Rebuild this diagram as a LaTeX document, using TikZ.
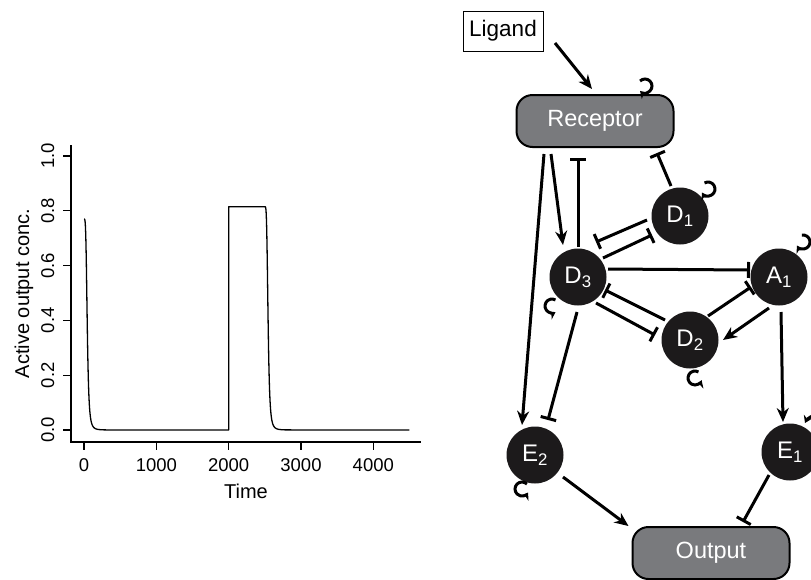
\documentclass[tikz,border=0pt]{standalone}
\usepackage{fontspec}
\setmainfont{Liberation Sans}
\usetikzlibrary{arrows.meta, calc, positioning}
\definecolor{nwBlack}{HTML}{1C1A1B}
\definecolor{nwGrey}{HTML}{797A7D}
\tikzset{
  act/.style      = {-{Stealth[length=14pt, width=12pt]}, line width=3pt},
  inh/.style      = {-{Bar[width=16pt]}, line width=3pt},
  loopy/.style    = {-{Stealth[length=7pt, width=9pt]}, line width=3pt},
  species/.style  = {circle, fill=nwBlack, minimum size=57pt, inner sep=0pt,
                     text=white, font=\fontsize{24}{28}\selectfont},
  compart/.style  = {draw=black, line width=2pt, fill=nwGrey, rounded corners=16pt,
                     minimum width=157pt, minimum height=52pt, text=white,
                     font=\fontsize{23.5}{27}\selectfont},
  ligbox/.style   = {draw=black, line width=0.9pt, minimum width=80pt, minimum height=40pt,
                     inner sep=0pt, font=\fontsize{22.5}{26}\selectfont},
  axisline/.style = {line width=1.3pt},
  trace/.style    = {line width=1.3pt, line join=round},
  ticklbl/.style  = {inner sep=0pt, font=\fontsize{18.5}{21}\selectfont},
  axlbl/.style    = {inner sep=0pt, font=\fontsize{20}{23}\selectfont},
}
% small self-activation arrow: node, offset x, offset y, start, end
\newcommand{\autoloop}[5]{%
  \draw[loopy] ($(#1)+(#2,#3)+({7*cos(#4)},{-7*sin(#4)})$)
    arc[start angle=#4, end angle=#5, radius=7pt];}

\begin{document}
\begin{tikzpicture}[x=1pt, y=-1pt]
  \useasboundingbox (0,0) rectangle (811,579);

  % time course of the active output
  \draw[axisline] (71,145) -- (71,442) -- (421,442);
  \foreach \v [count=\i] in {0.0,0.2,0.4,0.6,0.8,1.0} {
    \draw[axisline] (63,{430-274*\v}) -- (71,{430-274*\v});
    \node[ticklbl, rotate=90, anchor=base] (yl\i) at (54,{430-274*\v}) {\v};
  }
  \foreach \t [count=\i] in {0,1000,2000,3000,4000} {
    \draw[axisline] ({84+0.07233*\t},442) -- ({84+0.07233*\t},450);
    \node[ticklbl, anchor=base] (xl\i) at ({84+0.07233*\t},471.5) {\t};
  }
  \node[axlbl, anchor=base] (xlab) at (246,498.5) {Time};
  \node[axlbl, rotate=90, anchor=base] (ylab) at (29,293.5) {Active output conc.};
  \begin{scope}[shift={(84,430)}, x=0.07233pt, y=274pt]
    \draw[trace] plot[domain=0:300, samples=120] (\x,{0.77/(1+(\x/45)^4)})
      -- (2000,0) -- (2000,0.815) -- (2500,0.815)
      -- plot[domain=2500:2800, samples=120] (\x,{0.815/(1+((\x-2500)/45)^4)})
      -- (4500,0);
  \end{scope}

  % network
  \node[ligbox]  (lig) at (503,31)  {Ligand};
  \node[compart] (rec) at (595,121) {Receptor};
  \node[compart] (out) at (711,553) {Output};
  \node[species] (d1)  at (680,216) {D\textsubscript{1}};
  \node[species] (d3)  at (578,277) {D\textsubscript{3}};
  \node[species] (a1)  at (779,277) {A\textsubscript{1}};
  \node[species] (d2)  at (690,340) {D\textsubscript{2}};
  \node[species] (e2)  at (535,455) {E\textsubscript{2}};
  \node[species] (e1)  at (790,452) {E\textsubscript{1}};

  \draw[act] ($(lig)+(52,12)$)   -- ($(rec)+(-3,-32)$);
  \draw[act] ($(rec)+(-51,33)$)  -- ($(e2)+(-13,-30)$);
  \draw[act] ($(rec)+(-44,33)$)  -- ($(d3)+(-15,-32)$);
  \draw[inh] ($(d3)+(0,-30)$)    -- ($(rec)+(-17,37)$);
  \draw[inh] ($(d1)+(-9,-30)$)   -- ($(rec)+(62,32)$);
  \draw[inh] ($(d1)+(-33,4)$)    -- ($(d3)+(18,-35)$);
  \draw[inh] ($(d3)+(25,-19)$)   -- ($(d1)+(-28,19)$);
  \draw[inh] ($(d3)+(30,-8)$)    -- ($(a1)+(-29,-7)$);
  \draw[inh] ($(d2)+(-25,-20)$)  -- ($(d3)+(27,13)$);
  \draw[inh] ($(d3)+(18,26)$)    -- ($(d2)+(-35,-5)$);
  \draw[inh] ($(d2)+(18,-24)$)   -- ($(a1)+(-28,10)$);
  \draw[act] ($(a1)+(-10,31)$)   -- ($(d2)+(33,0)$);
  \draw[act] ($(a1)+(2,35)$)     -- ($(e1)+(-7,-30)$);
  \draw[inh] ($(d3)+(-1,35)$)    -- ($(e2)+(13,-35)$);
  \draw[act] ($(e2)+(28,22)$)    -- ($(out.north west)+(-3,0)$);
  \draw[inh] ($(e1)+(-21,23)$)   -- ($(out)+(32,-31)$);

  % self loops
  \autoloop{rec}{50}{-35}{135}{-135}
  \autoloop{d1}{28}{-27}{120}{-150}
  \autoloop{a1}{24}{-35}{100}{-150}
  \autoloop{d3}{-26}{29}{60}{300}
  \autoloop{d2}{5}{38}{60}{340}
  \autoloop{e2}{-13}{34}{45}{330}
  \draw[loopy] ($(e1)+(34.7,-35.2)$) arc[start angle=60, end angle=155, radius=14pt];
\end{tikzpicture}
\end{document}
